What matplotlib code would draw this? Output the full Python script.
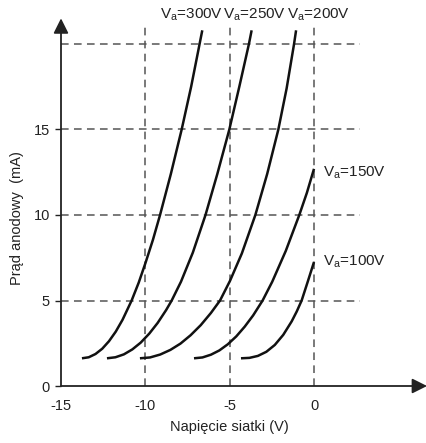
import matplotlib
matplotlib.use("Agg")
import matplotlib.pyplot as plt

plt.rcParams['font.family'] = ['Liberation Sans', 'DejaVu Sans']
plt.rcParams['mathtext.fontset'] = 'custom'
plt.rcParams['mathtext.rm'] = 'Liberation Sans'
plt.rcParams['mathtext.it'] = 'Liberation Sans'

# curves: grid voltage (V) -> anode current (mA)
va300_x = [-13.76, -13.36, -12.96, -12.56, -12.16, -11.76, -11.36, -10.82, -10.4, -10.0,
           -9.56, -9.14, -8.5, -7.86, -7.3, -6.8, -6.64]
va300_y = [1.62, 1.68, 1.87, 2.18, 2.62, 3.18, 3.87, 5.0, 6.05, 7.2,
           8.55, 10.0, 12.4, 15.0, 17.5, 20.0, 20.8]
va250_x = [-12.28, -11.78, -11.28, -10.78, -10.28, -9.78, -9.28, -8.78, -8.45, -7.9, -7.2,
           -6.45, -5.75, -5.04, -4.45, -3.88, -3.72]
va250_y = [1.62, 1.68, 1.85, 2.14, 2.54, 3.06, 3.69, 4.44, 5.0, 6.1, 7.8,
           10.0, 12.4, 15.0, 17.5, 20.0, 20.8]
va200_x = [-10.33, -9.73, -9.13, -8.53, -7.93, -7.33, -6.73, -6.13, -5.59, -5.0, -4.3,
           -3.5, -2.8, -2.14, -1.65, -1.21, -1.09]
va200_y = [1.62, 1.67, 1.84, 2.11, 2.48, 2.97, 3.56, 4.27, 5.0, 6.15, 7.75,
           10.0, 12.4, 15.0, 17.4, 20.0, 20.8]
va150_x = [-7.13, -6.63, -6.13, -5.63, -5.13, -4.63, -4.13, -3.63, -3.07, -2.5, -1.7,
           -0.9, -0.45, -0.03]
va150_y = [1.62, 1.67, 1.83, 2.08, 2.44, 2.9, 3.47, 4.13, 5.0, 6.1, 7.9,
           10.0, 11.3, 12.7]
va100_x = [-4.35, -3.85, -3.35, -2.85, -2.35, -1.85, -1.35, -1.05, -0.76, -0.4, -0.03]
va100_y = [1.62, 1.645, 1.76, 2.0, 2.4, 2.99, 3.78, 4.36, 5.0, 6.1, 7.25]

curve_labels = ['300V', '250V', '200V', '150V', '100V']
label_pos = [(-9.15, 21.7), (-5.4, 21.7), (-1.6, 21.7), (0.5, 12.45), (0.5, 7.25)]

grid_x = [-10, -5, 0]
grid_y = [5, 10, 15, 20]
xticks = [-15, -10, -5, 0]
yticks = [0, 5, 10, 15]

fig = plt.figure(figsize=(4.27, 4.43), dpi=100)
ax = fig.add_axes([61 / 427, (443 - 386) / 443, (427 - 61) / 427, (386 - 18) / 443])
ax.set_xlim(-15, -15 + 366 / 16.9)
ax.set_ylim(0, 368 / 17.1)

dash = (0, (5, 3.5))
ax.hlines(grid_y, -15, 2.7, colors='#555555', linestyles=dash, linewidth=1.1)
ax.vlines(grid_x, 0, 21.25, colors='#555555', linestyles=dash, linewidth=1.1)

for xs, ys in [(va300_x, va300_y), (va250_x, va250_y), (va200_x, va200_y),
               (va150_x, va150_y), (va100_x, va100_y)]:
    ax.plot(xs, ys, color='#111111', linewidth=1.8, solid_capstyle='butt',
            solid_joinstyle='round')

for lab, (lx, ly) in zip(curve_labels, label_pos):
    ax.text(lx, ly, r'$\mathrm{V_a}$=' + lab, fontsize=11, ha='left', va='center',
            color='#222222', clip_on=False)

for s in ax.spines.values():
    s.set_visible(False)

# axes with arrow heads
ax.annotate('', xy=(6.66, 0), xytext=(-15, 0), annotation_clip=False,
            arrowprops=dict(arrowstyle='-|>,head_length=0.9,head_width=0.45',
                            color='#222222', lw=1.3, shrinkA=0, shrinkB=0))
ax.annotate('', xy=(-15, 21.5), xytext=(-15, 0), annotation_clip=False,
            arrowprops=dict(arrowstyle='-|>,head_length=0.9,head_width=0.45',
                            color='#222222', lw=1.3, shrinkA=0, shrinkB=0))

ax.set_xticks(xticks)
ax.set_yticks(yticks)
ax.set_xticklabels([str(v) for v in xticks])
ax.tick_params(axis='x', length=0, pad=9, labelsize=10.5, colors='#222222')
ax.tick_params(axis='y', length=4, width=1, pad=4, labelsize=10.5, colors='#222222')
ax.set_xlabel('Napięcie siatki (V)', fontsize=10.5, color='#222222')
ax.set_ylabel('Prąd anodowy  (mA)', fontsize=10.5, color='#222222')
ax.xaxis.set_label_coords((229 - 61) / 366, (386 - 427) / 368)
ax.yaxis.set_label_coords((17 - 61) / 366, (386 - 218) / 368)
ax.xaxis.label.set_va('center')
ax.yaxis.label.set_va('center')

fig.savefig('out.png', dpi=100)
